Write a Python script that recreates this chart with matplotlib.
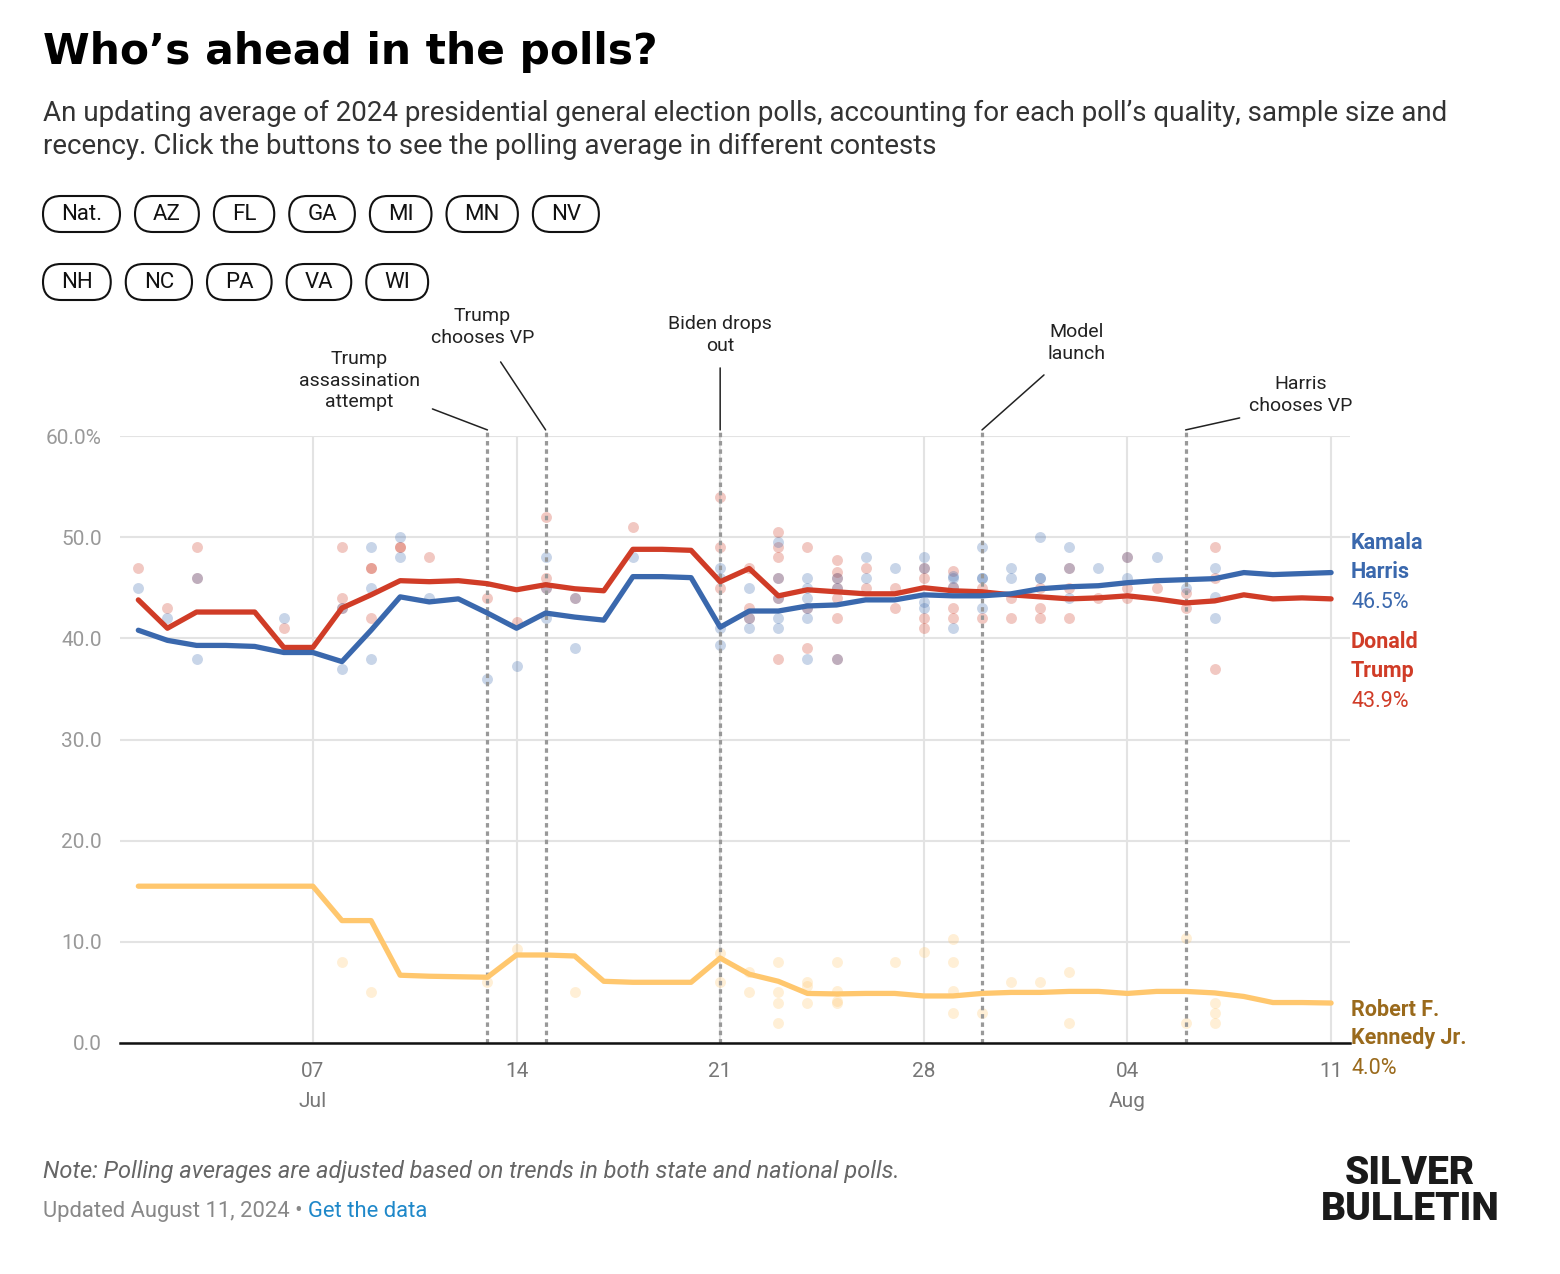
import numpy as np
import pandas as pd
import matplotlib
matplotlib.use("Agg")
import matplotlib.pyplot as plt
import matplotlib.dates as mdates
from matplotlib.patches import FancyBboxPatch

W, H = 1560, 1274
plt.rcParams['font.family'] = ['Roboto', 'DejaVu Sans']

# daily polling averages, Jul 1 - Aug 11 2024
dates = pd.date_range("2024-07-01", "2024-08-11", freq="D")
harris = [40.8, 39.8, 39.3, 39.3, 39.2, 38.6, 38.6, 37.7, 40.8, 44.1, 43.6, 43.9, 42.5, 41.0,
          42.5, 42.1, 41.8, 46.1, 46.1, 46.0, 41.1, 42.7, 42.7, 43.2, 43.3, 43.8, 43.8, 44.3,
          44.2, 44.2, 44.4, 44.9, 45.1, 45.2, 45.5, 45.7, 45.8, 45.9, 46.5, 46.3, 46.4, 46.5]
trump = [43.8, 41.0, 42.6, 42.6, 42.6, 39.1, 39.1, 43.0, 44.3, 45.7, 45.6, 45.7, 45.4, 44.8,
         45.3, 44.9, 44.7, 48.8, 48.8, 48.7, 45.6, 46.9, 44.2, 44.8, 44.6, 44.4, 44.4, 45.0,
         44.7, 44.6, 44.3, 44.1, 43.9, 44.0, 44.2, 43.9, 43.5, 43.7, 44.3, 43.9, 44.0, 43.9]
rfk = [15.5, 15.5, 15.5, 15.5, 15.5, 15.5, 15.5, 12.1, 12.1, 6.7, 6.6, 6.55, 6.5, 8.7,
       8.7, 8.6, 6.1, 6.0, 6.0, 6.0, 8.4, 6.8, 6.1, 4.9, 4.85, 4.9, 4.9, 4.65,
       4.65, 4.9, 5.0, 5.0, 5.1, 5.1, 4.9, 5.1, 5.1, 4.95, 4.6, 4.0, 4.0, 3.95]

# individual polls (day offset from Jul 1, share)
harris_poll_day = [0, 1, 2, 2, 5, 7, 7, 8, 8, 8, 9, 9, 10, 12, 13, 14, 14, 14, 15, 15, 17,
                   20, 20, 20, 20, 21, 21, 21, 22, 22, 22, 22, 22, 23, 23, 23, 23, 23, 23,
                   24, 24, 24, 25, 25, 26, 27, 27, 27, 27, 28, 28, 28, 28, 29, 29, 29, 29,
                   30, 30, 31, 31, 31, 32, 32, 32, 33, 34, 34, 35, 36, 37, 37, 37]
harris_poll_pct = [45, 42, 38, 46, 42, 37, 43, 49, 45, 38, 50, 48, 44, 36, 37.3, 48, 45, 42, 44, 39, 48,
                   47, 46, 41, 39.3, 45, 42, 41, 49.5, 46, 44, 42, 41, 46, 45, 44, 43, 42, 38,
                   46, 45, 38, 48, 46, 47, 48, 47, 43.6, 43, 46.2, 46, 45.1, 41, 49, 46, 46, 43,
                   47, 46, 50, 46, 46, 49, 47, 44, 47, 48, 46, 48, 45, 47, 44.1, 42]
trump_poll_day = [0, 1, 2, 2, 5, 7, 7, 7, 8, 8, 8, 9, 9, 10, 12, 13, 14, 14, 14, 15, 17,
                  20, 20, 20, 21, 21, 21, 22, 22, 22, 22, 22, 22, 23, 23, 23,
                  24, 24, 24, 24, 24, 24, 24, 25, 25, 26, 26, 27, 27, 27, 27, 28, 28, 28, 28,
                  29, 29, 30, 30, 31, 31, 31, 32, 32, 32, 33, 34, 34, 34, 35, 36, 36, 37, 37, 37]
trump_poll_pct = [47, 43, 49, 46, 41, 49, 44, 43, 47, 47, 42, 49, 49, 48, 44, 41.6, 52, 46, 45, 44, 51,
                  54, 49, 45, 47, 43, 42, 50.5, 49, 48, 46, 44, 38, 49, 43, 39,
                  47.7, 46.6, 46, 45, 44, 42, 38, 47, 45, 45, 43, 47, 46, 42, 41, 46.7, 45.1, 43, 42,
                  45, 42, 44, 42, 45, 43, 42, 47, 45, 42, 44, 48, 45, 44, 45, 44.5, 43, 49, 46, 37]
rfk_poll_day = [7, 8, 12, 13, 15, 20, 20, 21, 21, 22, 22, 22, 22, 23, 23, 23, 24, 24, 24, 24,
                26, 27, 28, 28, 28, 28, 29, 30, 31, 32, 32, 36, 36, 37, 37, 37]
rfk_poll_pct = [8, 5, 6, 9.3, 5, 8.9, 6, 7, 5, 8, 5, 4, 2, 6, 5.6, 4, 8, 5.1, 4.2, 4,
                8, 9, 10.3, 8, 5.1, 3, 3, 6, 6, 7, 2, 10.4, 2, 4, 3, 2]

event_day = [12, 14, 20, 29, 36]
event_label = ["Trump\nassassination\nattempt", "Trump\nchooses VP", "Biden drops\nout",
               "Model\nlaunch", "Harris\nchooses VP"]

tick_day = [6, 13, 20, 27, 34, 41]
tick_label = ["07\nJul", "14", "21", "28", "04\nAug", "11"]
y_ticks = [0, 10, 20, 30, 40, 50, 60]

buttons_row1 = ["Nat.", "AZ", "FL", "GA", "MI", "MN", "NV"]
buttons_row2 = ["NH", "NC", "PA", "VA", "WI"]

names = ["Kamala\nHarris", "Donald\nTrump", "Robert F.\nKennedy Jr."]
colors = ["#3a68ad", "#d03c27", "#ffc76e"]
label_colors = ["#3a68ad", "#d03c27", "#9a6a1c"]


def fx(x):
    return x / W


def fy(y):
    return 1 - y / H


fig = plt.figure(figsize=(W / 100, H / 100), dpi=100, facecolor='white')
ax = fig.add_axes([fx(120), fy(1043), fx(1350) - fx(120), fy(436) - fy(1043)])

x = mdates.date2num(dates)
x0 = x[0]

# polls
for days, pcts, c in [(rfk_poll_day, rfk_poll_pct, colors[2]),
                      (trump_poll_day, trump_poll_pct, colors[1]),
                      (harris_poll_day, harris_poll_pct, colors[0])]:
    ax.scatter(x0 + np.array(days), pcts, s=62, color=c, alpha=0.28, lw=0, zorder=2)

# averages
for series, c in zip([rfk, trump, harris], [colors[2], colors[1], colors[0]]):
    ax.plot(x, series, color=c, lw=3.8, zorder=4, solid_capstyle='round')

ax.set_xlim(x0 - 0.63, x0 + 41.65)
ax.set_ylim(0, 60)

# event lines + annotations
text_off = [(-128, 49), (-63, 103), (0, 95), (95, 87), (115, 35)]
line_off = [(-55, 21), (-45, 68), (0, 62), (62, 55), (54, 12)]
for d, lab, to, lo in zip(event_day, event_label, text_off, line_off):
    ax.axvline(x0 + d, ymin=0, ymax=1.01, color='#999999', lw=2.3,
               ls=(0, (1.4, 1.2)), zorder=3, clip_on=False)
    ax.annotate("", xy=(x0 + d, 60.6), xycoords='data', xytext=lo, textcoords='offset pixels',
                arrowprops=dict(arrowstyle='-', lw=1.1, color='#222222', shrinkA=0, shrinkB=0),
                annotation_clip=False)
    ax.annotate(lab, xy=(x0 + d, 60.6), xycoords='data', xytext=to, textcoords='offset pixels',
                ha='center', va='center', fontsize=14, color='#222222', linespacing=1.25,
                annotation_clip=False)

# axes styling
ax.set_xticks(x0 + np.array(tick_day))
ax.set_xticklabels(tick_label, fontsize=15, color='#777777', linespacing=1.7)
ax.set_yticks(y_ticks)
ax.set_yticklabels([f"{v:.1f}%" if v == 60 else f"{v:.1f}" for v in y_ticks],
                   fontsize=15, color='#999999')
ax.tick_params(axis='both', length=0)
ax.tick_params(axis='x', pad=14)
ax.tick_params(axis='y', pad=13)
ax.grid(True, color='#e3e3e3', lw=1.5)
ax.set_axisbelow(True)
for s in ['top', 'right', 'left']:
    ax.spines[s].set_visible(False)
ax.spines['bottom'].set_color('#111111')
ax.spines['bottom'].set_linewidth(1.8)
ax.spines['bottom'].set_zorder(5)

# end labels
last = [harris[-1], trump[-1], rfk[-1]]
label_y = [46.5, 36.7, 0.4]
for name, val, ly, c in zip(names, last, label_y, label_colors):
    ax.annotate(name, xy=(1.0, ly), xycoords=('axes fraction', 'data'), xytext=(1, 15),
                textcoords='offset pixels', ha='left', va='center', fontsize=15.5,
                fontweight='bold', color=c, linespacing=1.4)
    ax.annotate(f"{val:.1f}%", xy=(1.0, ly), xycoords=('axes fraction', 'data'), xytext=(1, -30),
                textcoords='offset pixels', ha='left', va='center', fontsize=15.5, color=c)

# title / subtitle
fig.text(fx(43), fy(64), "Who\u2019s ahead in the polls?", fontsize=30.5, fontweight='bold',
         family='DejaVu Sans', color='black', ha='left', va='baseline')
fig.text(fx(43), fy(121), "An updating average of 2024 presidential general election polls, "
         "accounting for each poll\u2019s quality, sample size and", fontsize=20, color='#333333',
         ha='left', va='baseline')
fig.text(fx(43), fy(154), "recency. Click the buttons to see the polling average in different contests",
         fontsize=20, color='#333333', ha='left', va='baseline')

# buttons
renderer = fig.canvas.get_renderer()
for row, yc in [(buttons_row1, 214), (buttons_row2, 282)]:
    xl = 43
    for lab in row:
        t = fig.text(0, fy(yc), lab, fontsize=16, color='#111111', ha='center', va='center')
        tw = t.get_window_extent(renderer=renderer).width
        bw = tw + 36
        t.set_x(fx(xl + bw / 2))
        box = FancyBboxPatch((xl / 100, (H - yc - 18) / 100), bw / 100, 36 / 100,
                             boxstyle="round,pad=0,rounding_size=0.18",
                             transform=fig.dpi_scale_trans, fc='white', ec='#111111', lw=1.5)
        fig.patches.append(box)
        xl += bw + 15

# footer
fig.text(fx(43), fy(1178), "Note: Polling averages are adjusted based on trends in both state and national polls.",
         fontsize=17, style='italic', color='#666666', ha='left', va='baseline')
t = fig.text(fx(43), fy(1217), "Updated August 11, 2024 \u2022 ", fontsize=15.8, color='#888888',
             ha='left', va='baseline')
tw = t.get_window_extent(renderer=renderer).width
fig.text(fx(43 + tw), fy(1217), "Get the data", fontsize=15.8, color='#1f88c9', ha='left', va='baseline')

fig.text(fx(1410), fy(1220), "SILVER\nBULLETIN", fontsize=28, fontweight='black', color='#1a1a1a',
         ha='center', va='baseline', linespacing=0.95)

fig.savefig("out.png", dpi=100, facecolor='white')
